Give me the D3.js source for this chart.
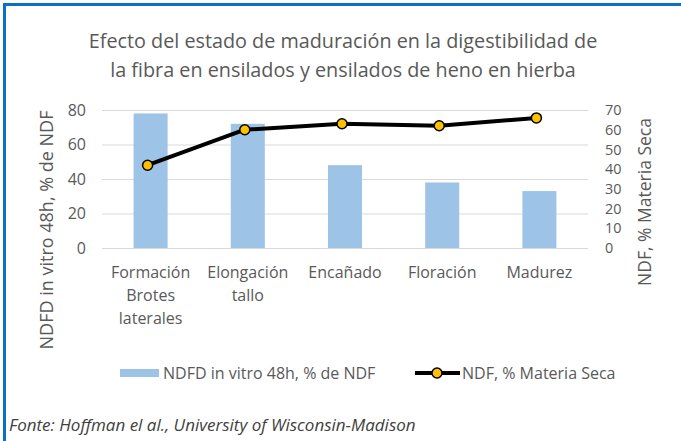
<!DOCTYPE html>
<html>
<head>
<meta charset="utf-8">
<script src="https://cdn.jsdelivr.net/npm/d3@7"></script>
<style>
  body { margin: 0; background: #fff; }
  svg { display: block; font-family: "Open Sans", sans-serif; }
</style>
</head>
<body>
<div id="chart"></div>
<script>
// data
const categories = ["Formación Brotes laterales", "Elongación tallo", "Encañado", "Floración", "Madurez"];
const categoryLines = [["Formación", "Brotes", "laterales"], ["Elongación", "tallo"], ["Encañado"], ["Floración"], ["Madurez"]];
const ndfd = [78, 72, 48, 38, 33];      // NDFD in vitro 48h, % de NDF (bars, left axis)
const ndf = [42, 60, 63, 62, 66];       // NDF, % Materia Seca (line, right axis)
const leftTicks = [0, 20, 40, 60, 80];
const rightTicks = [0, 10, 20, 30, 40, 50, 60, 70];
const titleLines = ["Efecto del estado de maduración en la digestibilidad de", "la fibra en ensilados y ensilados de heno en hierba"];
const seriesNames = ["NDFD in vitro 48h, % de NDF", "NDF, % Materia Seca"];
const source = "Fonte: Hoffman el al., University of Wisconsin-Madison";

const W = 681, H = 441;
const plot = { left: 102, right: 588, top: 110, bottom: 248 };
const textColor = "#595959";

const svg = d3.select("#chart").append("svg")
  .attr("width", W)
  .attr("height", H);

// blue frame (top + left only)
svg.append("line").attr("x1", 3).attr("x2", W).attr("y1", 4.5).attr("y2", 4.5)
  .attr("stroke", "#0a72c2").attr("stroke-width", 3);
svg.append("line").attr("x1", 4.5).attr("x2", 4.5).attr("y1", 3).attr("y2", H)
  .attr("stroke", "#0a72c2").attr("stroke-width", 3);

// title
svg.append("g").selectAll("text")
  .data(titleLines)
  .join("text")
  .attr("x", 343)
  .attr("y", (d, i) => 48 + i * 29)
  .attr("text-anchor", "middle")
  .attr("fill", textColor)
  .style("font-size", "19.8px")
  .text(d => d);

// scales
const x = d3.scaleBand()
  .domain(categories)
  .range([plot.left, plot.right])
  .paddingInner(0.65)
  .paddingOuter(0.325);

const yLeft = d3.scaleLinear().domain([0, 80]).range([plot.bottom, plot.top]);
const yRight = d3.scaleLinear().domain([0, 70]).range([plot.bottom, plot.top]);

// gridlines
svg.append("g")
  .attr("transform", `translate(${plot.left},0)`)
  .call(d3.axisLeft(yLeft).tickValues(leftTicks).tickSize(-(plot.right - plot.left)).tickFormat(""))
  .call(g => g.select(".domain").remove())
  .call(g => g.selectAll("line").attr("stroke", "#d9d9d9").attr("stroke-width", 1));

// left axis labels
svg.append("g")
  .attr("transform", `translate(${plot.left},0)`)
  .call(d3.axisLeft(yLeft).tickValues(leftTicks).tickSize(0).tickPadding(16))
  .call(g => g.select(".domain").remove())
  .call(g => g.selectAll("text").attr("fill", textColor).style("font-size", "16px").style("font-family", "Open Sans"));

// right axis labels (ticks are tight, keep the text boxes from touching)
svg.append("g")
  .attr("transform", `translate(${plot.right},0)`)
  .call(d3.axisRight(yRight).tickValues(rightTicks).tickSize(0).tickPadding(17))
  .call(g => g.select(".domain").remove())
  .call(g => g.selectAll("text").attr("fill", textColor).style("font-size", "14.4px").style("font-family", "Open Sans"));

// bars
svg.append("g").selectAll("rect")
  .data(ndfd)
  .join("rect")
  .attr("x", (d, i) => x(categories[i]))
  .attr("y", d => yLeft(d))
  .attr("width", x.bandwidth())
  .attr("height", d => yLeft(0) - yLeft(d))
  .attr("fill", "#9dc3e6");

// line
const cx = i => x(categories[i]) + x.bandwidth() / 2 - 3;
const line = d3.line()
  .x((d, i) => cx(i))
  .y(d => yRight(d));

svg.append("path")
  .datum(ndf)
  .attr("fill", "none")
  .attr("stroke", "#000")
  .attr("stroke-width", 4)
  .attr("stroke-linejoin", "round")
  .attr("d", line);

svg.append("g").selectAll("circle")
  .data(ndf)
  .join("circle")
  .attr("cx", (d, i) => cx(i))
  .attr("cy", d => yRight(d))
  .attr("r", 5)
  .attr("fill", "#ffc000")
  .attr("stroke", "#000")
  .attr("stroke-width", 1.5);

// category labels
const catG = svg.append("g").selectAll("g")
  .data(categoryLines)
  .join("g")
  .attr("transform", (d, i) => `translate(${x(categories[i]) + x.bandwidth() / 2},0)`);

catG.selectAll("text")
  .data(d => d)
  .join("text")
  .attr("x", 0)
  .attr("y", (d, i) => 278 + i * 23)
  .attr("text-anchor", "middle")
  .attr("fill", textColor)
  .style("font-size", "16px")
  .text(d => d);

// axis titles
svg.append("text")
  .attr("transform", `translate(53,230) rotate(-90)`)
  .attr("text-anchor", "middle")
  .attr("fill", textColor)
  .style("font-size", "18px")
  .text(seriesNames[0]);

svg.append("text")
  .attr("transform", `translate(651,202) rotate(-90)`)
  .attr("text-anchor", "middle")
  .attr("fill", textColor)
  .style("font-size", "17.5px")
  .text(seriesNames[1]);

// legend
const legendY = 373;
svg.append("rect")
  .attr("x", 120).attr("y", legendY - 4)
  .attr("width", 39).attr("height", 8)
  .attr("fill", "#9dc3e6");
svg.append("text")
  .attr("x", 163).attr("y", legendY + 6)
  .attr("fill", textColor)
  .style("font-size", "16px")
  .text(seriesNames[0]);

svg.append("line")
  .attr("x1", 415).attr("x2", 460)
  .attr("y1", legendY).attr("y2", legendY)
  .attr("stroke", "#000").attr("stroke-width", 4);
svg.append("circle")
  .attr("cx", 437).attr("cy", legendY).attr("r", 5)
  .attr("fill", "#ffc000").attr("stroke", "#000").attr("stroke-width", 1.5);
svg.append("text")
  .attr("x", 462).attr("y", legendY + 6)
  .attr("fill", textColor)
  .style("font-size", "16px")
  .text(seriesNames[1]);

// source note
svg.append("text")
  .attr("x", 9).attr("y", 431)
  .attr("fill", "#404040")
  .style("font-size", "17px")
  .style("font-style", "italic")
  .text(source);
</script>
</body>
</html>
